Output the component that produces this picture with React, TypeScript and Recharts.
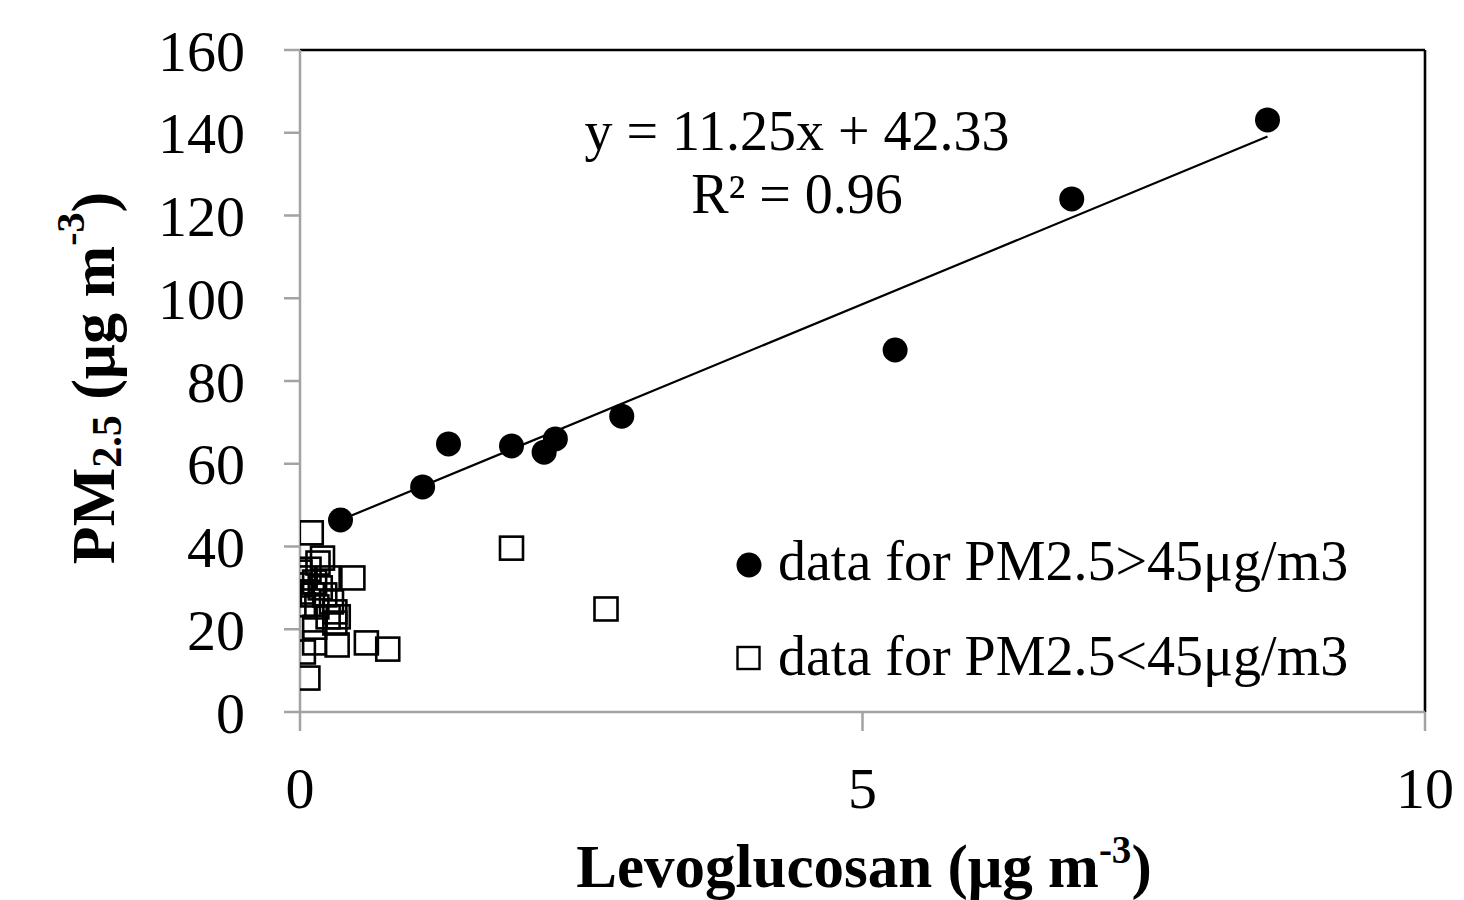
import React from "react";
import {
  ScatterChart,
  Scatter,
  XAxis,
  YAxis,
  ReferenceLine,
  Label,
} from "recharts";

// High PM2.5 days (filled circles): levoglucosan (x), PM2.5 (y)
const highX = [0.36, 1.09, 1.32, 1.88, 2.17, 2.27, 2.86, 5.29, 6.86, 8.6];
const highY = [46.4, 54.4, 64.8, 64.3, 62.8, 66.0, 71.5, 87.5, 124.0, 143.1];

// Low PM2.5 days (open squares)
const lowX = [
  0.1, 0.47, 0.59, 0.78, 0.33, 0.07, 0.03, 0.13, 1.88, 2.72,
  0.2, 0.16, 0.0, 0.03, 0.13, 0.25, 0.02, 0.11, 0.22, 0.03,
  0.15, 0.28, 0.31, 0.34, 0.25, 0.0, 0.13, 0.31, 0.08, 0.18,
];
const lowY = [
  43.3, 32.4, 16.7, 15.2, 16.2, 8.2, 14.5, 16.7, 39.6, 24.9,
  37.2, 36.0, 33.8, 32.4, 31.4, 32.4, 29.0, 28.3, 28.3, 25.9,
  25.4, 26.6, 24.2, 23.0, 23.0, 30.7, 20.5, 21.5, 34.5, 30.0,
];

const xTicks = [0, 5, 10];
const yTicks = [0, 20, 40, 60, 80, 100, 120, 140, 160];

// Linear fit shown on the chart
const slope = 11.25;
const intercept = 42.33;
const fitRange = [0.36, 8.6];

const legendLabels = ["data for PM2.5>45μg/m3", "data for PM2.5<45μg/m3"];

const highData = highX.map((x, i) => ({ x, y: highY[i] }));
const lowData = lowX.map((x, i) => ({ x, y: lowY[i] }));

const FONT = "'Liberation Serif', 'Times New Roman', serif";
const AXIS_GRAY = "#a3a3a3";

const Circle = (props: any) => {
  const { cx, cy } = props;
  if (cx == null || cy == null) return null;
  return <circle cx={cx} cy={cy} r={12.5} fill="#000" />;
};

const Square = (props: any) => {
  const { cx, cy } = props;
  if (cx == null || cy == null) return null;
  return (
    <rect
      x={cx - 11.5}
      y={cy - 11.5}
      width={23}
      height={23}
      fill="none"
      stroke="#000"
      strokeWidth={2.6}
    />
  );
};

const YLabel = () => {
  const cx = 93;
  const cy = 378;
  return (
    <text
      x={cx}
      y={cy}
      transform={`rotate(-90 ${cx} ${cy})`}
      textAnchor="middle"
      dominantBaseline="central"
      fontFamily={FONT}
      fontWeight="bold"
      fontSize={62}
      fill="#000"
    >
      PM
      <tspan fontSize={42} dy={14}>2.5</tspan>
      <tspan dy={-14}>{" (μg m"}</tspan>
      <tspan fontSize={40} dy={-23}>-3</tspan>
      <tspan dy={23}>)</tspan>
    </text>
  );
};

const XLabel = () => {
  return (
    <text
      x={864}
      y={887}
      textAnchor="middle"
      fontFamily={FONT}
      fontWeight="bold"
      fontSize={61}
      fill="#000"
    >
      Levoglucosan (μg m
      <tspan fontSize={39} dy={-24}>-3</tspan>
      <tspan dy={24}>)</tspan>
    </text>
  );
};

export default function App() {
  return (
    <div
      style={{
        position: "absolute",
        left: 0,
        top: 0,
        width: 1464,
        height: 900,
        background: "#fff",
      }}
    >
      <ScatterChart
        width={1464}
        height={900}
        margin={{ top: 50, right: 39, bottom: 88, left: 100 }}
      >
        <XAxis
          type="number"
          dataKey="x"
          domain={[0, 10]}
          ticks={xTicks}
          interval={0}
          allowDataOverflow
          height={100}
          stroke={AXIS_GRAY}
          strokeWidth={2.5}
          tickSize={19}
          tickMargin={36}
          tick={{ fill: "#000", fontSize: 58, fontFamily: FONT }}
          tickLine={{ stroke: AXIS_GRAY, strokeWidth: 2.5 }}
        >
          <Label content={<XLabel />} />
        </XAxis>
        <YAxis
          type="number"
          dataKey="y"
          domain={[0, 160]}
          ticks={yTicks}
          interval={0}
          allowDataOverflow
          width={200}
          stroke={AXIS_GRAY}
          strokeWidth={2.5}
          tickSize={16}
          tickMargin={39}
          tick={{ fill: "#000", fontSize: 58, fontFamily: FONT }}
          tickLine={{ stroke: AXIS_GRAY, strokeWidth: 2.5 }}
        >
          <Label content={<YLabel />} />
        </YAxis>
        <ReferenceLine y={160} stroke="#000" strokeWidth={2.6} />
        <ReferenceLine x={10} stroke="#000" strokeWidth={2.6} />
        <ReferenceLine
          segment={[
            { x: fitRange[0], y: slope * fitRange[0] + intercept },
            { x: fitRange[1], y: slope * fitRange[1] + intercept },
          ]}
          stroke="#000"
          strokeWidth={2.2}
        />
        <Scatter
          name={legendLabels[1]}
          data={lowData}
          shape={<Square />}
          isAnimationActive={false}
        />
        <Scatter
          name={legendLabels[0]}
          data={highData}
          shape={<Circle />}
          isAnimationActive={false}
        />
      </ScatterChart>
      <svg
        width={1464}
        height={900}
        style={{ position: "absolute", left: 0, top: 0, pointerEvents: "none" }}
      >
        <text
          x={797}
          y={150}
          textAnchor="middle"
          fontFamily={FONT}
          fontSize={56}
          fill="#000"
        >
          y = 11.25x + 42.33
        </text>
        <text
          x={797}
          y={213}
          textAnchor="middle"
          fontFamily={FONT}
          fontSize={56}
          fill="#000"
        >
          R² = 0.96
        </text>
        <circle cx={749} cy={565} r={12.5} fill="#000" />
        <text x={778} y={580} fontFamily={FONT} fontSize={56} fill="#000">
          {legendLabels[0]}
        </text>
        <rect
          x={737.5}
          y={647}
          width={22}
          height={22}
          fill="none"
          stroke="#000"
          strokeWidth={2.4}
        />
        <text x={778} y={675} fontFamily={FONT} fontSize={56} fill="#000">
          {legendLabels[1]}
        </text>
      </svg>
    </div>
  );
}
